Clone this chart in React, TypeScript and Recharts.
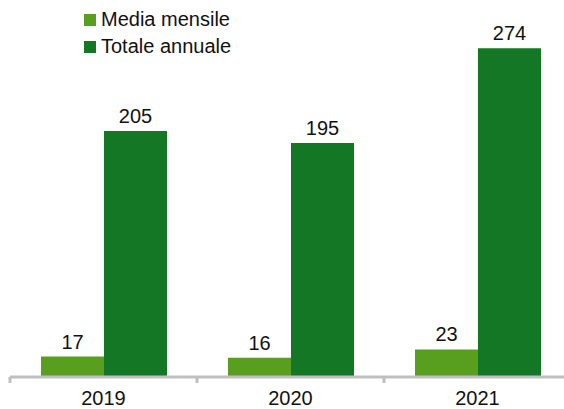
import { BarChart, Bar, XAxis, YAxis, LabelList } from 'recharts';

const years = ['2019', '2020', '2021'];
const mediaMensile = [17, 16, 23];
const totaleAnnuale = [205, 195, 274];
const seriesNames = ['Media mensile', 'Totale annuale'];

const data = years.map((year, i) => ({ year, media: mediaMensile[i], totale: totaleAnnuale[i] }));

const FONT = '"Liberation Sans", Arial, sans-serif';
const LIGHT = '#589f1f';
const DARK = '#147725';
const AXIS = '#bfbfbf';
const BAND = 187;
const CHART_H = 409;
const AXIS_H = 32;
const BASE = CHART_H - AXIS_H; // plot bottom

if (typeof document !== 'undefined') {
  document.body.style.margin = '0';
}

function YearTick({ x, payload }: any) {
  return (
    <g>
      <line x1={x - BAND / 2} x2={x - BAND / 2} y1={BASE} y2={BASE + 6} stroke={AXIS} strokeWidth={3} />
      <text x={x} y={BASE + 28} textAnchor="middle" fontFamily={FONT} fontSize={20} fill="#111">
        {payload.value}
      </text>
    </g>
  );
}

function LegendBox() {
  const colors = [LIGHT, DARK];
  return (
    <div style={{ position: 'absolute', top: 6, left: 84, fontFamily: FONT, fontSize: 20, color: '#111' }}>
      {seriesNames.map((label, i) => (
        <div key={label} style={{ display: 'flex', alignItems: 'center', height: 27 }}>
          <span style={{ width: 12, height: 12, background: colors[i], marginRight: 5, display: 'inline-block' }} />
          <span>{label}</span>
        </div>
      ))}
    </div>
  );
}

export default function App() {
  return (
    <div style={{ position: 'relative', width: 564, height: CHART_H, overflow: 'hidden', background: '#fff' }}>
      <BarChart width={571} height={CHART_H} data={data} margin={{ top: 17, right: 0, bottom: 0, left: 10 }} barGap={0}>
        <XAxis
          dataKey="year"
          height={AXIS_H}
          axisLine={{ stroke: AXIS, strokeWidth: 3 }}
          tickLine={false}
          tickSize={0}
          tickMargin={0}
          tick={<YearTick />}
          interval={0}
        />
        <YAxis hide domain={[0, 300]} />
        <Bar dataKey="media" name={seriesNames[0]} fill={LIGHT} barSize={63} isAnimationActive={false}>
          <LabelList dataKey="media" position="top" offset={8} fill="#111" fontSize={20} fontFamily={FONT} />
        </Bar>
        <Bar dataKey="totale" name={seriesNames[1]} fill={DARK} barSize={63} isAnimationActive={false}>
          <LabelList dataKey="totale" position="top" offset={8} fill="#111" fontSize={20} fontFamily={FONT} />
        </Bar>
      </BarChart>
      <LegendBox />
    </div>
  );
}
